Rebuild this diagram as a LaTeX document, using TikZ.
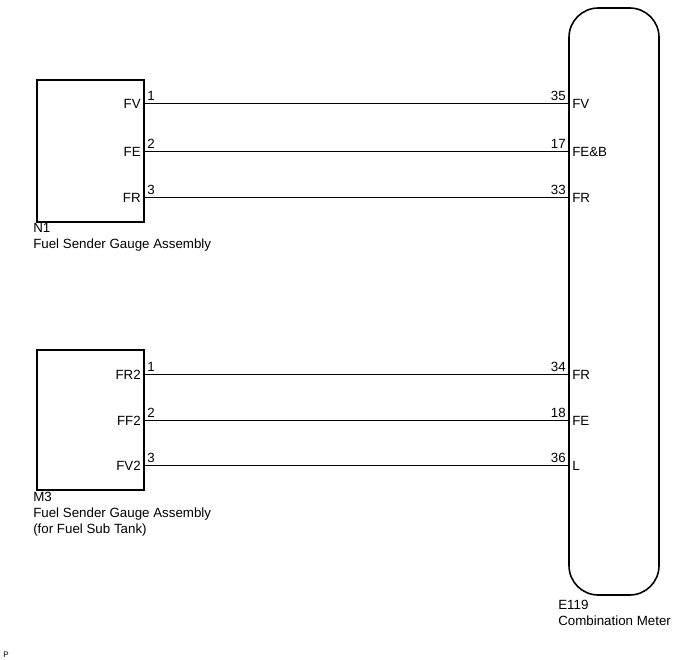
\documentclass[tikz,border=0pt]{standalone}
\usepackage{fontspec}
\setmainfont{Liberation Sans}
\usetikzlibrary{positioning}
\begin{document}
\begin{tikzpicture}[x=0.75pt,y=-0.75pt,
	every node/.style={font=\fontsize{10}{12}\selectfont, inner sep=0pt},
	part/.style={draw, line width=1.2pt},
	wire/.style={draw, line width=0.6pt},
	pinno/.style={anchor=south west},
	pinname/.style={anchor=south east}
]
\useasboundingbox (0,0) rectangle (691,659);
% components
\draw[part] (37,80) rectangle (144,222);
\draw[part] (37,350) rectangle (144,490);
\draw[part, rounded corners=22pt] (569,8) rectangle (659,595);
% wires
\foreach \y/\ln/\la/\rn/\ra in {103/FV/1/35/FV, 151/FE/2/17/FE\&B, 197/FR/3/33/FR,
		374/FR2/1/34/FR, 420/FF2/2/18/FE, 465/FV2/3/36/L}{
	\coordinate (l\y) at (144,\y);
	\coordinate (r\y) at (569,\y);
	\draw[wire] (l\y) -- (r\y);
	\node[anchor=east] at (141,\y+0.5) {\ln};
	\node[pinno] at (147,\y-2) {\la};
	\node[pinname] at (566,\y-2) {\rn};
	\node[anchor=west] at (572,\y+0.5) {\ra};
}
% captions
\node[anchor=north west, align=left] (capn) at (33,223) {N1\\Fuel Sender Gauge Assembly};
\node[anchor=north west, align=left] (capm) at (33,492) {M3\\Fuel Sender Gauge Assembly\\(for Fuel Sub Tank)};
\node[anchor=north west, align=left] (cape) at (558,600) {E119\\Combination Meter};
\node[anchor=west, font=\fontsize{6}{7}\selectfont] (tag) at (3,655) {P};
\end{tikzpicture}
\end{document}
